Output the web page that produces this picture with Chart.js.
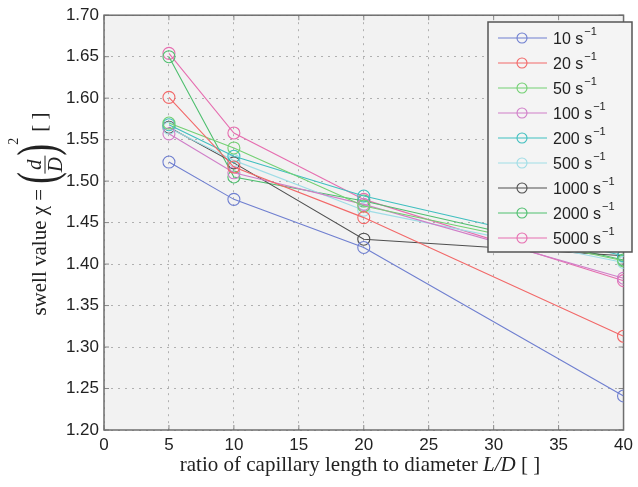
<!DOCTYPE html>
<html>
<head>
<meta charset="utf-8">
<script src="https://cdn.jsdelivr.net/npm/chart.js@4/dist/chart.umd.min.js"></script>
<style>
  html, body { margin: 0; padding: 0; background: #fff; }
  #wrap { width: 638px; height: 487px; }
</style>
</head>
<body>
<div id="wrap"><canvas id="swellChart" width="638" height="487"></canvas></div>
<script>
// L/D ratios on the x axis
var ratios = [5, 10, 20, 40];
// shear rates, one line each
var shearRates = ['10', '20', '50', '100', '200', '500', '1000', '2000', '5000'];
var lineColors = ['#6f7fd0', '#f26868', '#72d072', '#d07ec8', '#3fbfbf', '#9fdde6', '#4f4f4f', '#4fbf6f', '#e66eb0'];

var swell10   = [1.523, 1.478, 1.420, 1.241];
var swell20   = [1.601, 1.517, 1.456, 1.313];
var swell50   = [1.570, 1.540, 1.470, 1.404];
var swell100  = [1.557, 1.510, 1.472, 1.383];
var swell200  = [1.568, 1.530, 1.482, 1.410];
var swell500  = [1.564, 1.525, 1.465, 1.402];
var swell1000 = [1.565, 1.522, 1.430, 1.410];
var swell2000 = [1.650, 1.505, 1.476, 1.405];
var swell5000 = [1.654, 1.558, 1.478, 1.380];
var allSwell = [swell10, swell20, swell50, swell100, swell200, swell500, swell1000, swell2000, swell5000];

var yTicks = [1.20, 1.25, 1.30, 1.35, 1.40, 1.45, 1.50, 1.55, 1.60, 1.65, 1.70];

var datasets = shearRates.map(function (rate, i) {
    return {
        label: rate + ' s\u207B\u00B9',
        data: ratios.map(function (r, j) { return { x: r, y: allSwell[i][j] }; }),
        borderColor: lineColors[i],
        backgroundColor: 'transparent',
        borderWidth: 1.1,
        pointRadius: 6,
        pointBorderWidth: 1.1,
        pointBackgroundColor: 'transparent',
        pointBorderColor: lineColors[i],
        tension: 0
    };
});

var matlabLook = {
    id: 'matlabLook',
    beforeDraw: function (chart) {
        var ctx = chart.ctx, a = chart.chartArea;
        ctx.save();
        ctx.fillStyle = '#fff';
        ctx.fillRect(0, 0, chart.width, chart.height);
        ctx.fillStyle = '#f2f2f2';
        ctx.fillRect(a.left, a.top, a.right - a.left, a.bottom - a.top);
        ctx.restore();
    },
    beforeDatasetsDraw: function (chart) {
        var ctx = chart.ctx, a = chart.chartArea;
        var xs = chart.scales.x, ys = chart.scales.y;
        ctx.save();
        // small inward tick marks, matlab style
        ctx.strokeStyle = '#888';
        ctx.lineWidth = 1;
        ctx.beginPath();
        xs.ticks.forEach(function (t) {
            var px = xs.getPixelForValue(t.value);
            ctx.moveTo(px, a.bottom); ctx.lineTo(px, a.bottom - 5);
            ctx.moveTo(px, a.top); ctx.lineTo(px, a.top + 5);
        });
        ys.ticks.forEach(function (t) {
            var py = ys.getPixelForValue(t.value);
            ctx.moveTo(a.left, py); ctx.lineTo(a.left + 5, py);
            ctx.moveTo(a.right, py); ctx.lineTo(a.right - 5, py);
        });
        ctx.stroke();
        ctx.strokeStyle = '#6e6e6e';
        ctx.lineWidth = 1.5;
        ctx.strokeRect(a.left, a.top, a.right - a.left, a.bottom - a.top);
        ctx.restore();
    },
    afterDraw: function (chart) {
        var ctx = chart.ctx;
        ctx.save();

        // legend box
        var bx = 488, by = 22, bw = 144, bh = 230;
        ctx.fillStyle = '#f4f4f4';
        ctx.fillRect(bx, by, bw, bh);
        ctx.strokeStyle = '#555';
        ctx.lineWidth = 1.5;
        ctx.strokeRect(bx, by, bw, bh);
        chart.data.datasets.forEach(function (ds, i) {
            var y = 38 + i * 25;
            ctx.strokeStyle = ds.borderColor;
            ctx.lineWidth = 1.1;
            ctx.beginPath();
            ctx.moveTo(498, y);
            ctx.lineTo(547, y);
            ctx.stroke();
            ctx.beginPath();
            ctx.arc(522, y, 5, 0, Math.PI * 2);
            ctx.stroke();
            ctx.fillStyle = '#222';
            ctx.font = '16px "Liberation Sans", Arial, sans-serif';
            ctx.textBaseline = 'middle';
            ctx.textAlign = 'left';
            var main = shearRates[i] + ' s';
            ctx.fillText(main, 553, y + 2);
            var w = ctx.measureText(main).width;
            ctx.font = '11px "Liberation Sans", Arial, sans-serif';
            ctx.fillText('\u2212' + '1', 553 + w + 1, y - 6);
        });

        // x axis title
        ctx.fillStyle = '#222';
        ctx.textBaseline = 'alphabetic';
        ctx.textAlign = 'left';
        var serif = '"Liberation Serif", "Times New Roman", serif';
        var fs = 21;
        var p1 = 'ratio of capillary length to diameter ', p2 = 'L/D', p3 = ' [ ]';
        ctx.font = fs + 'px ' + serif;
        var w1 = ctx.measureText(p1).width, w3 = ctx.measureText(p3).width;
        ctx.font = 'italic ' + fs + 'px ' + serif;
        var w2 = ctx.measureText(p2).width;
        var xs = 360 - (w1 + w2 + w3) / 2, xb = 471;
        ctx.font = fs + 'px ' + serif;
        ctx.fillText(p1, xs, xb);
        ctx.font = 'italic ' + fs + 'px ' + serif;
        ctx.fillText(p2, xs + w1, xb);
        ctx.font = fs + 'px ' + serif;
        ctx.fillText(p3, xs + w1 + w2, xb);

        // y axis title, rotated
        ctx.translate(46, 214);
        ctx.rotate(-Math.PI / 2);
        ctx.font = fs + 'px ' + serif;
        var t1 = 'swell value \u03C7 = ', t3 = '[ ]';
        var tw1 = ctx.measureText(t1).width, tw3 = ctx.measureText(t3).width;
        var fracW = 18, parW = 10, supW = 14;
        var total = tw1 + parW + fracW + parW + supW + tw3;
        var x = -total / 2;
        ctx.fillText(t1, x, 0);
        x += tw1;
        // left parenthesis
        ctx.save();
        ctx.translate(x, 9);
        ctx.scale(0.65, 1);
        ctx.font = '54px ' + serif;
        ctx.fillText('(', 0, 0);
        ctx.restore();
        x += parW;
        // fraction d / D
        ctx.font = 'italic ' + fs + 'px ' + serif;
        var dw = ctx.measureText('d').width, Dw = ctx.measureText('D').width;
        ctx.fillText('d', x + (fracW - dw) / 2, -5);
        ctx.fillText('D', x + (fracW - Dw) / 2, 16);
        ctx.strokeStyle = '#222';
        ctx.lineWidth = 1;
        ctx.beginPath();
        ctx.moveTo(x, -1);
        ctx.lineTo(x + fracW, -1);
        ctx.stroke();
        x += fracW;
        // right parenthesis
        ctx.save();
        ctx.translate(x, 9);
        ctx.scale(0.65, 1);
        ctx.font = '54px ' + serif;
        ctx.fillText(')', 0, 0);
        ctx.restore();
        x += parW;
        ctx.font = '14px ' + serif;
        ctx.fillText('2', x + 1, -28);
        x += supW;
        ctx.font = fs + 'px ' + serif;
        ctx.fillText(t3, x, 0);

        ctx.restore();
    }
};

var ctxSwell = document.getElementById('swellChart').getContext('2d');
var swellChart = new Chart(ctxSwell, {
    type: 'line',
    data: { datasets: datasets },
    plugins: [matlabLook],
    options: {
        responsive: false,
        animation: false,
        layout: { padding: { top: 15, right: 6, left: 0, bottom: 0 } },
        plugins: {
            legend: { display: false },
            tooltip: { enabled: false }
        },
        scales: {
            x: {
                type: 'linear',
                min: 0,
                max: 40,
                ticks: {
                    stepSize: 5,
                    color: '#222',
                    padding: 5,
                    font: { family: '"Liberation Sans", Arial, sans-serif', size: 17 },
                    maxRotation: 0
                },
                grid: { color: '#b0b0b0', lineWidth: 1, drawTicks: false },
                border: { display: false, dash: [2, 5] },
                afterFit: function (scale) { scale.height = 57; }
            },
            y: {
                type: 'linear',
                min: yTicks[0],
                max: yTicks[yTicks.length - 1],
                afterBuildTicks: function (scale) {
                    scale.ticks = yTicks.map(function (v) { return { value: v }; });
                },
                ticks: {
                    color: '#222',
                    padding: 5,
                    font: { family: '"Liberation Sans", Arial, sans-serif', size: 17 },
                    callback: function (v) { return Number(v).toFixed(2); }
                },
                grid: { color: '#b0b0b0', lineWidth: 1, drawTicks: false },
                border: { display: false, dash: [2, 5] },
                afterFit: function (scale) { scale.width = 104; }
            }
        }
    }
});
</script>
</body>
</html>
